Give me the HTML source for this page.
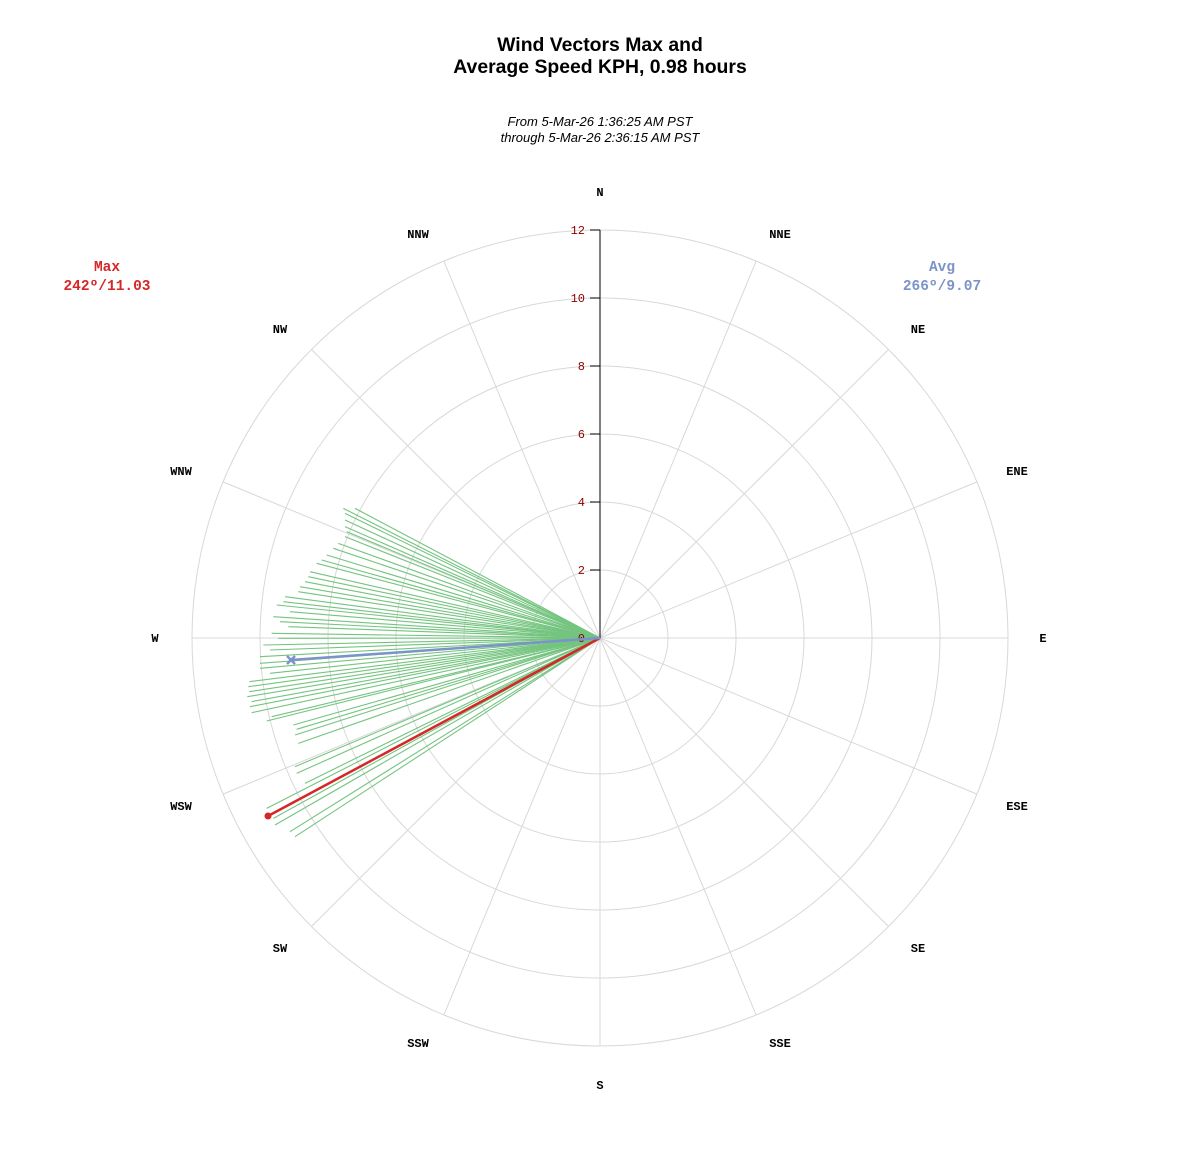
<!DOCTYPE html><html><head><style>body{margin:0;background:#fff}svg text{font-family:"Liberation Mono",monospace}</style></head><body>
<svg id="s" width="1200" height="1150" xmlns="http://www.w3.org/2000/svg">
<text x="600" y="51" text-anchor="middle" style="font-family:'Liberation Sans',sans-serif;font-weight:bold;font-size:19.4px">Wind Vectors Max and</text>
<text x="600" y="73" text-anchor="middle" style="font-family:'Liberation Sans',sans-serif;font-weight:bold;font-size:19.4px">Average Speed KPH, 0.98 hours</text>
<text x="600" y="126" text-anchor="middle" style="font-family:'Liberation Sans',sans-serif;font-style:italic;font-size:13px">From 5-Mar-26 1:36:25 AM PST</text>
<text x="600" y="142" text-anchor="middle" style="font-family:'Liberation Sans',sans-serif;font-style:italic;font-size:13px">through 5-Mar-26 2:36:15 AM PST</text>
<text x="107" y="271" text-anchor="middle" fill="#d62728" font-weight="bold" font-size="14.5">Max</text>
<text x="107" y="290" text-anchor="middle" fill="#d62728" font-weight="bold" font-size="14.5">242º/11.03</text>
<text x="942" y="271" text-anchor="middle" fill="#7b93c9" font-weight="bold" font-size="14.5">Avg</text>
<text x="942" y="290" text-anchor="middle" fill="#7b93c9" font-weight="bold" font-size="14.5">266º/9.07</text>
<g id="g"></g>
</svg>
<script>
var g=document.getElementById('g'),h='',cx=600,cy=638,k=34;
for(var i=1;i<=6;i++)h+='<circle cx="600" cy="638" r="'+(i*68)+'" fill="none" stroke="#d8d8d8"/>';
var n=['N','NNE','NE','ENE','E','ESE','SE','SSE','S','SSW','SW','WSW','W','WNW','NW','NNW'];
var P=[[600,192],[780,234],[918,329],[1017,471],[1043,638],[1017,806],[918,948],[780,1043],[600,1085],[418,1043],[280,948],[181,806],[155,638],[181,471],[280,329],[418,234]];
for(i=0;i<16;i++){var a=i*22.5*Math.PI/180,s=Math.sin(a),c=Math.cos(a);
h+='<line x1="600" y1="638" x2="'+(cx+408*s)+'" y2="'+(cy-408*c)+'" stroke="#d8d8d8"/>';
h+='<text x="'+P[i][0]+'" y="'+(P[i][1]+4)+'" text-anchor="middle" font-size="12" font-weight="bold">'+n[i]+'</text>';}
var z=[[310,55],[345,55],[315,70],[315,90],[315,110],[320,125],[315,140],[295,160],[280,175],[260,195],[245,210],[230,220],[210,245],[205,260],[195,275],[180,290],[175,305],[135,320],[130,335],[110,345],[150,365],[100,380],[120,395],[145,410],[95,430],[115,445],[70,465],[90,480],[60,500],[60,520],[60,535],[90,550],[28,575],[25,590],[28,605],[22,620],[35,635],[30,650],[35,668],[95,680],[80,693],[160,705],[170,718],[165,735],[175,760],[165,830],[170,850],[195,880],[80,955],[100,985],[105,1005],[150,1025],[165,1040]];
z.forEach(function(p){h+='<line x1="600" y1="638" x2="'+(240+p[0]/3)+'" y2="'+(490+p[1]/3)+'" stroke="#74c47f" stroke-width="1.1"/>';});
h+='<line x1="600" y1="638" x2="600" y2="230" stroke="#000"/>';
for(i=0;i<=6;i++){var y=638-i*68;h+='<line x1="590" y1="'+y+'" x2="600" y2="'+y+'" stroke="#000"/><text x="585" y="'+(y+4)+'" text-anchor="end" font-size="12" fill="#8b0000">'+(i*2)+'</text>';}
h+='<line x1="600" y1="638" x2="268" y2="816" stroke="#d62728" stroke-width="2.5"/><circle cx="268" cy="816" r="3.5" fill="#d62728"/>';
h+='<line x1="600" y1="638" x2="291" y2="660" stroke="#7b93c9" stroke-width="2.5"/><path d="M287 656l8 8M295 656l-8 8" stroke="#7b93c9" stroke-width="2.5"/>';
g.innerHTML=h;
</script></body></html>
